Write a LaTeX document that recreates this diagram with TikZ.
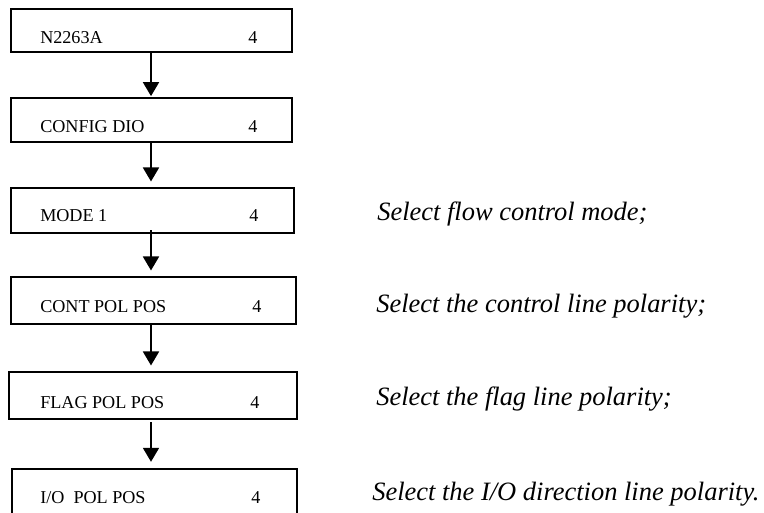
\documentclass[tikz,border=0pt]{standalone}
\usepackage{fontspec}
\setmainfont{Liberation Serif}
\usetikzlibrary{arrows.meta,fit}
\begin{document}
\begin{tikzpicture}[x=0.75pt,y=-0.75pt,
  box/.style={draw,line width=1.8pt,inner sep=0pt,rectangle},
  steptext/.style={anchor=base west,inner sep=0pt,font=\fontsize{13.6}{16}\selectfont},
  note/.style={anchor=base west,inner sep=0pt,font=\fontsize{19.85}{23}\selectfont\itshape},
  arr/.style={line width=1.4pt,-{Triangle[width=12pt,length=10.5pt]}}]
\useasboundingbox (0,0) rectangle (764,512);

% step boxes
\node[box,fit={(11,9) (292,52)}]   (b1) {};
\node[box,fit={(11,98) (292,142)}] (b2) {};
\node[box,fit={(11,188) (294,233)}] (b3) {};
\node[box,fit={(11,277) (296,324)}] (b4) {};
\node[box,fit={(9,372) (297,419)}] (b5) {};
\node[box,fit={(12,469) (297,522)}] (b6) {};

% box contents
\node[steptext] (t1) at (40,43)  {N2263A};
\node[steptext] (t2) at (40,132) {CONFIG DIO};
\node[steptext] (t3) at (40,221) {MODE 1};
\node[steptext] (t4) at (40,312) {CONT POL POS};
\node[steptext] (t5) at (40,408) {FLAG POL POS};
\node[steptext] (t6) at (40,503) {I/O\ \ POL POS};
\node[steptext] (n1) at (248,43)  {4};
\node[steptext] (n2) at (248,132) {4};
\node[steptext] (n3) at (249,221) {4};
\node[steptext] (n4) at (252,312) {4};
\node[steptext] (n5) at (250,408) {4};
\node[steptext] (n6) at (251,503) {4};

% comments to the right
\node[note] (c3) at (377,220) {Select flow control mode;};
\node[note] (c4) at (376,312) {Select the control line polarity;};
\node[note] (c5) at (376,405) {Select the flag line polarity;};
\node[note] (c6) at (372,500) {Select the I/O direction line polarity.};

% flow arrows
\coordinate (ax) at (151,0);
\draw[arr] (b1.south -| ax) -- ([yshift=0.5pt]b2.north -| ax);
\draw[arr] (b2.south -| ax) -- ([yshift=4pt]b3.north -| ax);
\draw[arr] ([yshift=3pt]b3.south -| ax) -- ([yshift=4pt]b4.north -| ax);
\draw[arr] (b4.south -| ax) -- ([yshift=4pt]b5.north -| ax);
\draw[arr] ([yshift=-1.5pt]b5.south -| ax) -- ([yshift=4.5pt]b6.north -| ax);
\end{tikzpicture}
\end{document}
